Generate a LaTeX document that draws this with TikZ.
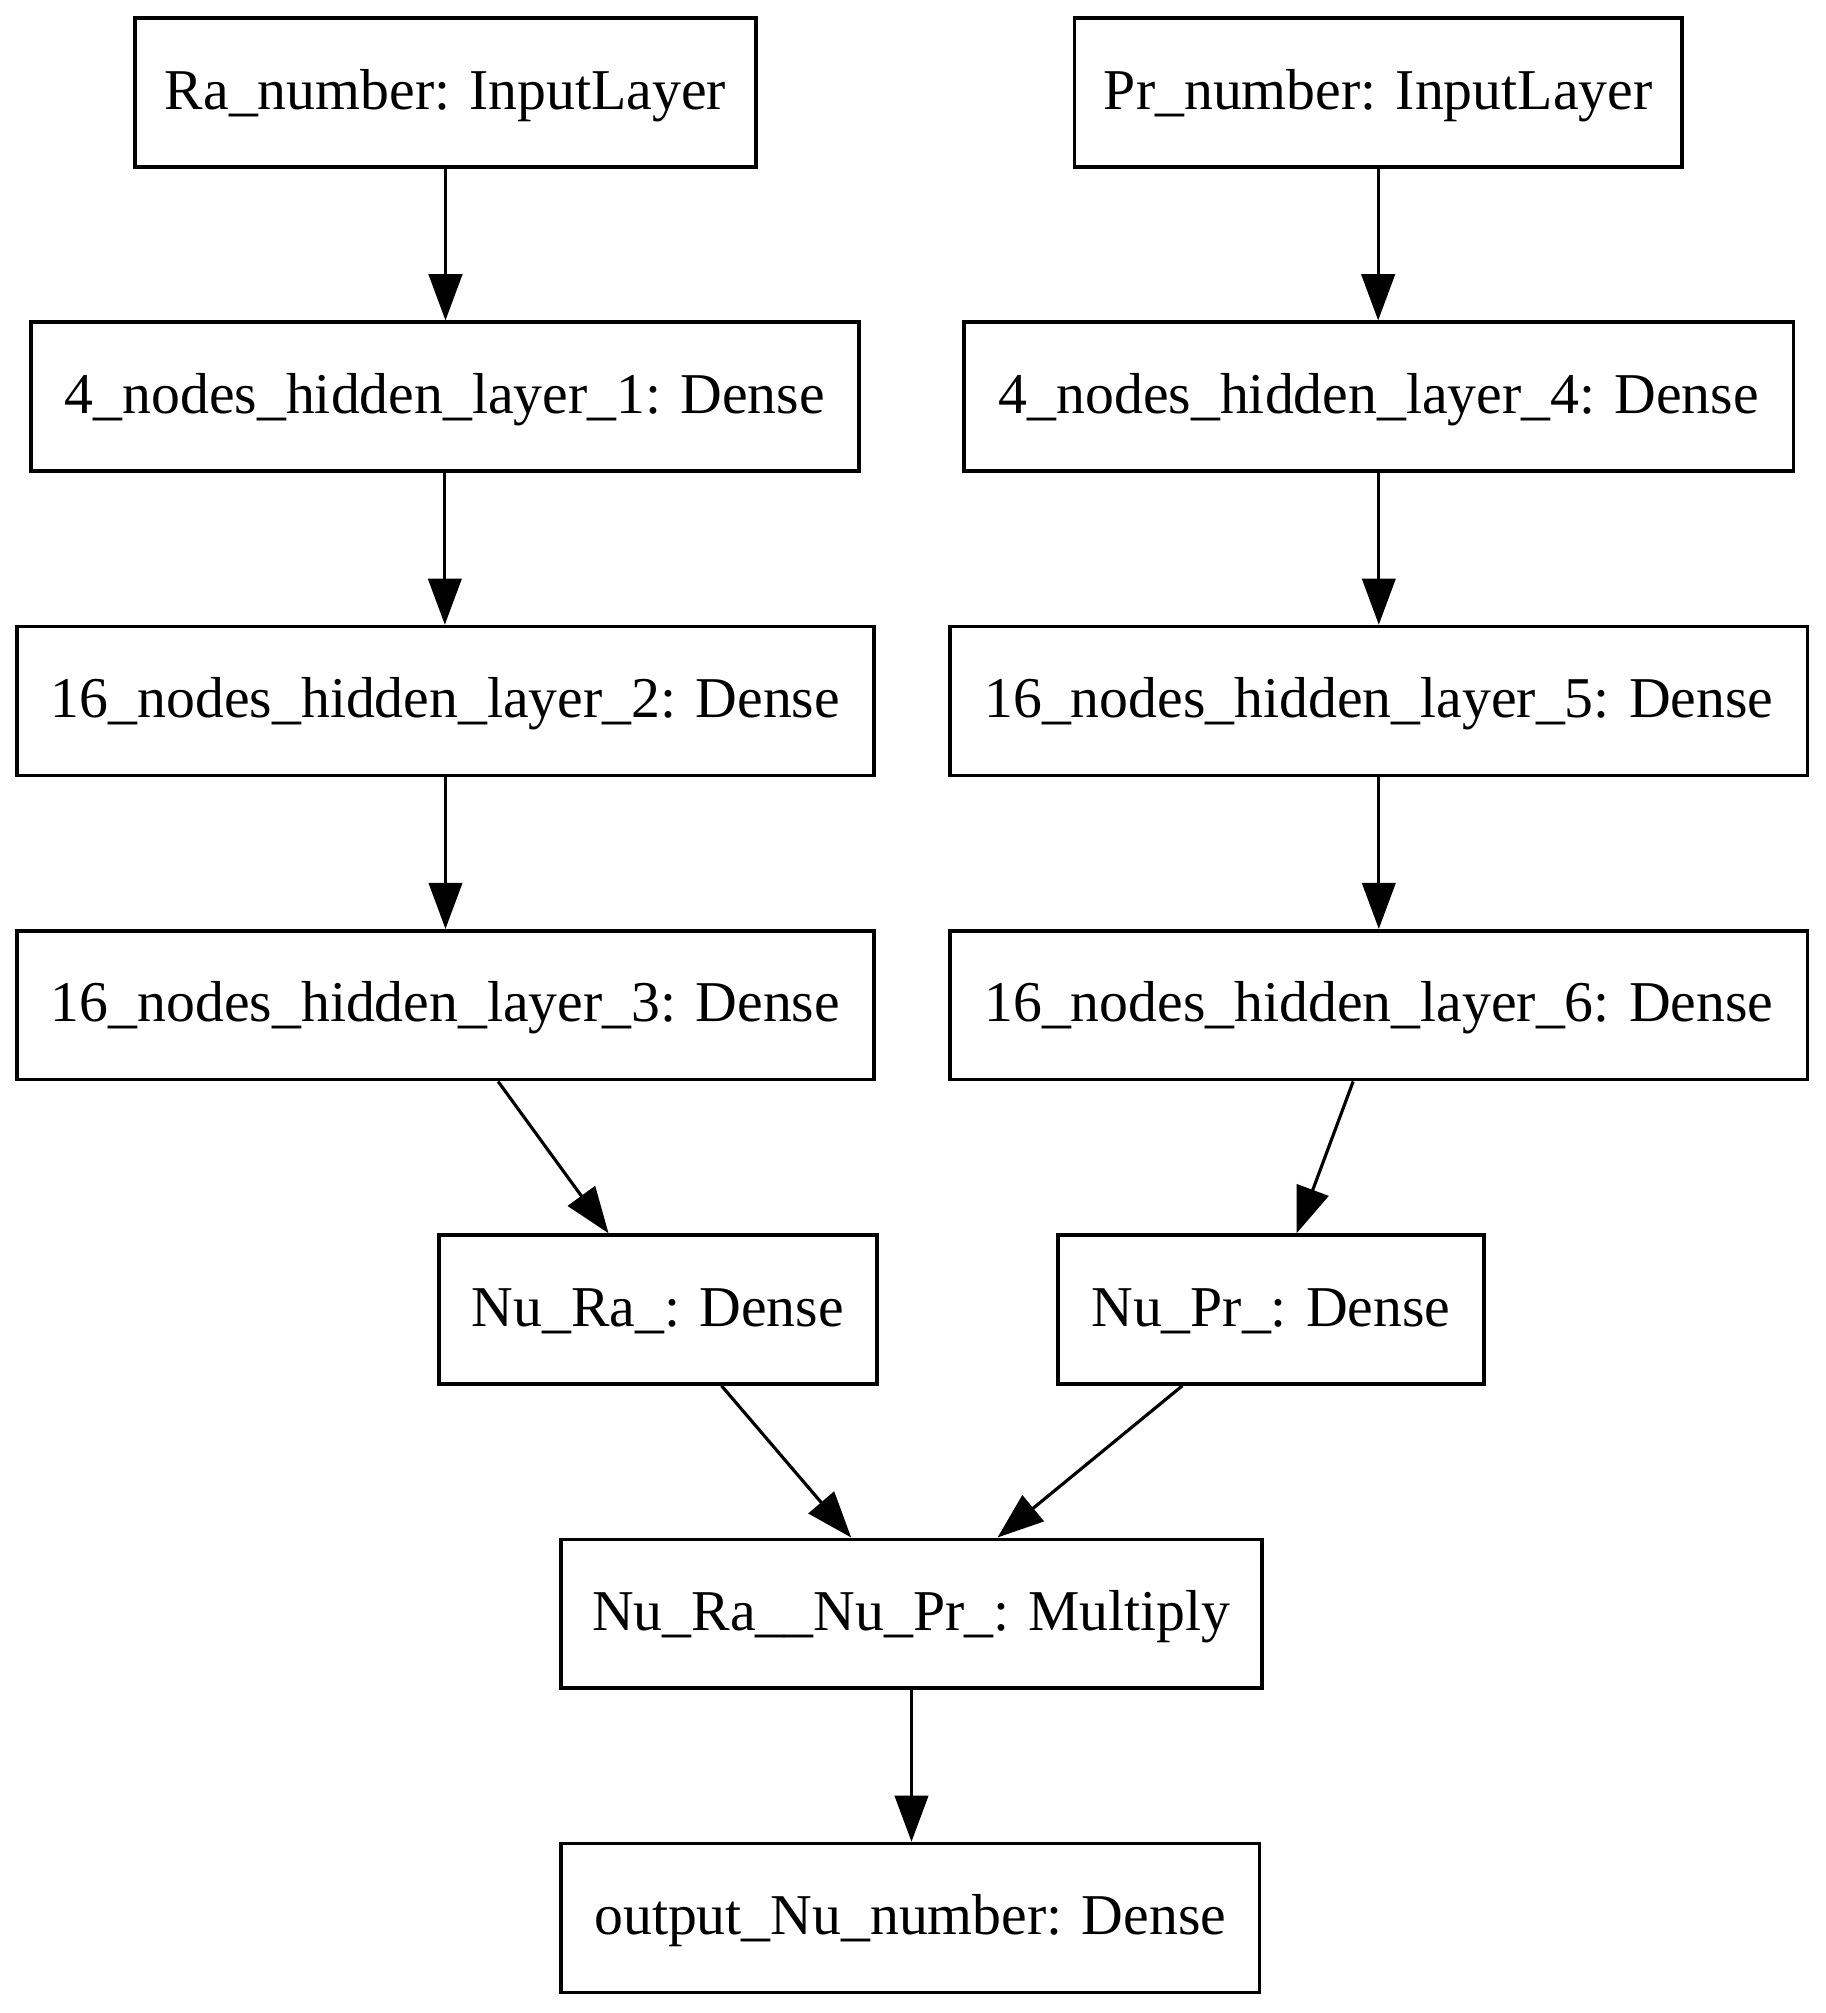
\documentclass[tikz,border=0pt]{standalone}
\usepackage{fontspec}
\setmainfont{Liberation Serif}
\usetikzlibrary{arrows.meta,calc}
\begin{document}
\begin{tikzpicture}[x=0.02cm,y=-0.02cm,
  layer/.style={draw=black,line width=1.6pt,rectangle,inner sep=0pt,
    minimum height=2.32cm,text height=0.7cm,text depth=0.18cm,
    font=\fontsize{25.6}{30}\selectfont,anchor=center},
  conn/.style={line width=1.4pt,-{Triangle[length=0.72cm,width=0.52cm]}}]
\useasboundingbox[fill=white] (0,0) rectangle (1422,1568);
\node[layer,minimum width=9.68cm] (ra) at (347,72) {Ra\_number: InputLayer};
\node[layer,minimum width=9.46cm] (pr) at (1073.5,72) {Pr\_number: InputLayer};
\node[layer,minimum width=12.9cm] (h1) at (346.5,309) {4\_nodes\_hidden\_layer\_1: Dense};
\node[layer,minimum width=12.92cm] (h4) at (1074,309) {4\_nodes\_hidden\_layer\_4: Dense};
\node[layer,minimum width=13.36cm] (h2) at (347,546) {16\_nodes\_hidden\_layer\_2: Dense};
\node[layer,minimum width=13.36cm] (h5) at (1074,546) {16\_nodes\_hidden\_layer\_5: Dense};
\node[layer,minimum width=13.36cm] (h3) at (347,783) {16\_nodes\_hidden\_layer\_3: Dense};
\node[layer,minimum width=13.36cm] (h6) at (1074,783) {16\_nodes\_hidden\_layer\_6: Dense};
\node[layer,minimum width=6.82cm] (nura) at (512.5,1020) {Nu\_Ra\_: Dense};
\node[layer,minimum width=6.64cm] (nupr) at (990,1020) {Nu\_Pr\_: Dense};
\node[layer,minimum width=10.92cm] (mult) at (710,1257) {Nu\_Ra\_\_Nu\_Pr\_: Multiply};
\node[layer,minimum width=10.88cm] (out) at (709,1494) {output\_Nu\_number: Dense};
\draw[conn] (ra.south) -- (ra.south |- h1.north);
\draw[conn] (h1.south) -- (h1.south |- h2.north);
\draw[conn] (h2.south) -- (h2.south |- h3.north);
\draw[conn] (pr.south) -- (pr.south |- h4.north);
\draw[conn] (h4.south) -- (h4.south |- h5.north);
\draw[conn] (h5.south) -- (h5.south |- h6.north);
\draw[conn] ($(h3.south)+(41,0)$) -- ($(nura.north)+(-38.5,0)$);
\draw[conn] ($(h6.south)+(-20,0)$) -- ($(nupr.north)+(20,0)$);
\draw[conn] ($(nura.south)+(49.5,0)$) -- ($(mult.north)+(-47,0)$);
\draw[conn] ($(nupr.south)+(-69,0)$) -- ($(mult.north)+(67,0)$);
\draw[conn] (mult.south) -- (mult.south |- out.north);
\end{tikzpicture}
\end{document}
